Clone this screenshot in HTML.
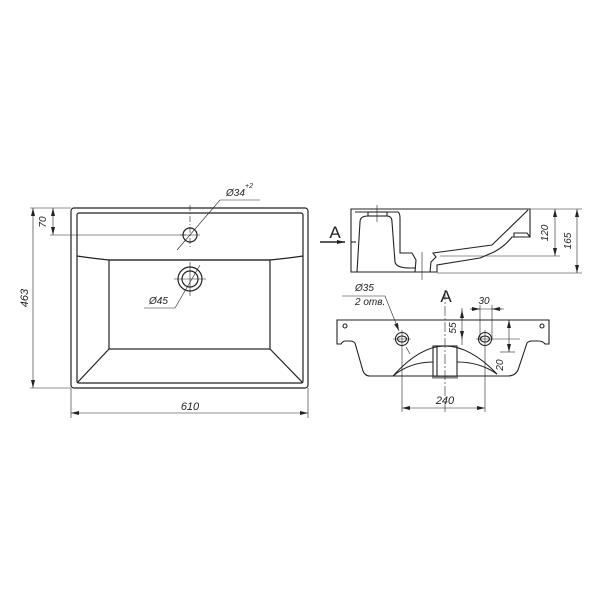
<!DOCTYPE html>
<html><head><meta charset="utf-8"><style>
html,body{margin:0;padding:0;background:#fff;}
svg{display:block;}
text{font-family:"Liberation Sans",sans-serif;font-style:italic;fill:#222;}
</style></head><body>
<svg width="600" height="600" viewBox="0 0 600 600" xmlns="http://www.w3.org/2000/svg">
<defs>
<marker id="ar" markerWidth="8" markerHeight="6" refX="8" refY="3" orient="auto-start-reverse" markerUnits="userSpaceOnUse"><path d="M0,1 L8,3 L0,5 z" fill="#222"/></marker>
</defs>
<g fill="none" stroke="#222" stroke-width="1.2">
<!-- TOP VIEW -->
<rect x="71" y="208" width="237" height="180" rx="3"/>
<rect x="77" y="213" width="226" height="170" rx="2"/>
<path d="M77,256 Q90,258 109,260 L270,260 Q290,258 303,256"/>
<rect x="109" y="260" width="161" height="89"/>
<line x1="109" y1="349" x2="77" y2="383"/>
<line x1="270" y1="349" x2="303" y2="383"/>
<circle cx="190" cy="235" r="7"/>
<circle cx="190" cy="279" r="12"/>
<circle cx="190" cy="279" r="8"/>
</g>
<g stroke="#222" stroke-width="0.6" fill="none">
<line x1="190" y1="205" x2="190" y2="248" stroke-dasharray="6,2,1,2"/>
<line x1="180" y1="235" x2="200" y2="235"/>
<line x1="190" y1="262" x2="190" y2="296"/>
<line x1="174" y1="279" x2="206" y2="279"/>
<!-- 463 -->
<line x1="71" y1="208" x2="30" y2="208"/>
<line x1="71" y1="388" x2="30" y2="388"/>
<line x1="33" y1="208" x2="33" y2="388" marker-start="url(#ar)" marker-end="url(#ar)"/>
<!-- 70 -->
<line x1="50" y1="235" x2="186" y2="235"/>
<line x1="53" y1="208" x2="53" y2="235" marker-start="url(#ar)" marker-end="url(#ar)"/>
<!-- 610 -->
<line x1="71" y1="388" x2="71" y2="418"/>
<line x1="308" y1="388" x2="308" y2="418"/>
<line x1="71" y1="413" x2="308" y2="413" marker-start="url(#ar)" marker-end="url(#ar)"/>
<!-- Ø34 leader -->
<path d="M177,250 L220,200 L260,200"/>
<path d="M200,265 L175,308 L144,308"/>
</g>
<text x="28" y="298" font-size="11" transform="rotate(-90 28 298)" text-anchor="middle">463</text>
<text x="46" y="222" font-size="10" transform="rotate(-90 46 222)" text-anchor="middle">70</text>
<text x="190" y="410" font-size="11" text-anchor="middle">610</text>
<text x="226" y="196" font-size="10">Ø34</text>
<text x="245" y="188" font-size="7">+2</text>
<text x="149" y="304" font-size="10">Ø45</text>

<!-- SIDE VIEW -->
<g fill="none" stroke="#222" stroke-width="1.1">
<path d="M351,209 L530,209 L530,237 L512,237 Q505,246 494,252 L480,258 L437,265 L437,272 L351,272 Z"/>
<path d="M355,212 L398,212 Q400,213 400,218 L400,253 L412,253 L416,260 L415,272"/>
<path d="M430,272 L431,262 L436,257 L433,253 L492,245 L528,210"/>
<path d="M514,237 L514,233 L527,233 L530,237"/>
<rect x="368" y="212" width="19" height="4"/>
<path d="M360,222 Q360,216 368,216 L387,216 Q392,216 392,222 L395,262 Q396,268 410,268 L415,268"/>
<path d="M360,222 L357,272"/>
<line x1="351" y1="242" x2="356" y2="242"/>
</g>
<g stroke="#222" stroke-width="0.6" fill="none">
<line x1="377" y1="205" x2="377" y2="222"/>
<line x1="422" y1="252" x2="422" y2="280"/>
<line x1="530" y1="209" x2="582" y2="209"/>
<line x1="440" y1="256" x2="560" y2="256"/>
<line x1="437" y1="273" x2="582" y2="273"/>
<line x1="555" y1="209" x2="555" y2="256" marker-start="url(#ar)" marker-end="url(#ar)"/>
<line x1="577" y1="209" x2="577" y2="273" marker-start="url(#ar)" marker-end="url(#ar)"/>
</g>
<text x="548" y="233" font-size="10" transform="rotate(-90 548 233)" text-anchor="middle">120</text>
<text x="571" y="241" font-size="10" transform="rotate(-90 571 241)" text-anchor="middle">165</text>
<text x="335" y="238" font-size="17" text-anchor="middle" style="font-style:normal">A</text>
<line x1="320" y1="242" x2="345" y2="242" stroke="#222" stroke-width="1.4" marker-end="url(#ar)"/>

<!-- FRONT VIEW -->
<g fill="none" stroke="#222" stroke-width="1.1">
<path d="M337,320 L549,320 L549,344 L545,344 Q543,341 538,341 L532,341 Q529,341 527,343 L518,370 Q515,376 508,376 L370,376 Q365,376 363,371 L355,343 Q353,341 350,341 L345,341 Q343,341 341,344 L337,344 Z"/>
<path d="M393,376 Q420,346 445,346 Q470,346 497,374"/>
<path d="M393,376 Q410,362 433,362 M457,362 Q480,362 497,374"/>
<rect x="433" y="346" width="24" height="32"/>
<line x1="437" y1="346" x2="437" y2="378"/>
<circle cx="402" cy="339" r="6.5"/>
<ellipse cx="402" cy="339" rx="4.5" ry="3"/>
<circle cx="485" cy="339" r="6.5"/>
<ellipse cx="485" cy="339" rx="4.5" ry="3"/>
<circle cx="345" cy="326" r="2"/>
<circle cx="542" cy="326" r="2"/>
</g>
<line x1="433" y1="377.5" x2="457" y2="377.5" stroke="#888" stroke-width="2"/>
<g stroke="#222" stroke-width="0.6" fill="none">
<line x1="445" y1="290" x2="445" y2="412" stroke-dasharray="10,2,2,2"/>
<line x1="393" y1="339" x2="411" y2="339"/><line x1="402" y1="330" x2="402" y2="412"/>
<line x1="476" y1="339" x2="520" y2="339"/><line x1="485" y1="330" x2="485" y2="412"/>
<line x1="480" y1="305" x2="480" y2="340"/><line x1="492" y1="305" x2="492" y2="340"/>
<line x1="471" y1="309" x2="504" y2="309"/>
<path d="M470,309 L480,309" marker-end="url(#ar)"/>
<path d="M502,309 L492,309" marker-end="url(#ar)"/>
<line x1="462" y1="308" x2="462" y2="345"/>
<path d="M462,310 L462,320" marker-start="url(#ar)"/>
<path d="M462,332 L462,339" marker-end="url(#ar)"/>
<line x1="500" y1="352" x2="515" y2="352"/>
<line x1="509" y1="320" x2="509" y2="352" marker-start="url(#ar)" marker-end="url(#ar)"/>
<line x1="402" y1="408" x2="485" y2="408" marker-start="url(#ar)" marker-end="url(#ar)"/>
<path d="M342,296 L385,296 L399,331" marker-end="url(#ar)"/>
<line x1="406" y1="347" x2="410" y2="354"/>
</g>
<text x="355" y="291" font-size="10">Ø35</text>
<text x="355" y="305" font-size="10">2 отв.</text>
<text x="446" y="302" font-size="17" text-anchor="middle" style="font-style:normal">A</text>
<text x="484" y="304" font-size="10" text-anchor="middle">30</text>
<text x="456" y="328" font-size="10" transform="rotate(-90 456 328)" text-anchor="middle">55</text>
<text x="503" y="365" font-size="10" transform="rotate(-90 503 365)" text-anchor="middle">20</text>
<text x="445" y="404" font-size="11" text-anchor="middle">240</text>
</svg>
</body></html>
